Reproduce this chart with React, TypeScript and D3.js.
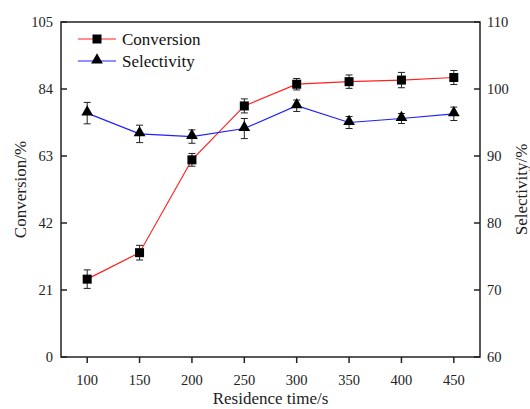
import React from 'react';
import * as d3 from 'd3';

// residence time (s)
const times = [100, 150, 200, 250, 300, 350, 400, 450];
const conversion = [24.4, 32.7, 61.8, 78.7, 85.5, 86.3, 86.8, 87.6];
const conversionErr = [2.9, 2.3, 2.0, 2.2, 1.8, 2.1, 2.4, 2.2];
const selectivity = [96.4, 93.3, 92.9, 94.1, 97.5, 95.0, 95.6, 96.3];
const selectivityErr = [1.6, 1.3, 1.0, 1.5, 0.85, 0.9, 0.75, 1.0];

const xTicks = [100, 150, 200, 250, 300, 350, 400, 450];
const leftTicks = [0, 21, 42, 63, 84, 105];
const rightTicks = [60, 70, 80, 90, 100, 110];

const W = 530;
const H = 409;
const M = { left: 61, right: 480, top: 22, bottom: 357 };
const FONT = '"Liberation Serif", "Times New Roman", serif';
const AXIS = '#222';

export default function App() {
  const x = d3.scaleLinear().domain([75, 475]).range([M.left, M.right]);
  const yL = d3.scaleLinear().domain([0, 105]).range([M.bottom, M.top]);
  const yR = d3.scaleLinear().domain([60, 110]).range([M.bottom, M.top]);

  const convLine = d3
    .line<number>()
    .x((_, i) => x(times[i]))
    .y((d) => yL(d));
  const selLine = d3
    .line<number>()
    .x((_, i) => x(times[i]))
    .y((d) => yR(d));

  const tri = d3.symbol(d3.symbolTriangle, 60)() ?? '';
  const sq = 9;
  const cap = 3.5;

  const errBar = (cx: number, y1: number, y2: number, key: string) => (
    <g key={key} stroke="#222" strokeWidth={1}>
      <line x1={cx} x2={cx} y1={y1} y2={y2} />
      <line x1={cx - cap} x2={cx + cap} y1={y1} y2={y1} />
      <line x1={cx - cap} x2={cx + cap} y1={y2} y2={y2} />
    </g>
  );

  return (
    <svg
      width={W}
      height={H}
      style={{ position: 'absolute', left: 0, top: 0, background: '#fff' }}
      fontFamily={FONT}
    >
      <rect width={W} height={H} fill="#fff" />

      {/* series lines */}
      <path d={convLine(conversion) ?? ''} fill="none" stroke="#ff2020" strokeWidth={1.2} />
      <path d={selLine(selectivity) ?? ''} fill="none" stroke="#2020ff" strokeWidth={1.2} />

      {/* error bars */}
      {times.map((t, i) =>
        errBar(x(t), yL(conversion[i] + conversionErr[i]), yL(conversion[i] - conversionErr[i]), `ce${i}`)
      )}
      {times.map((t, i) =>
        errBar(x(t), yR(selectivity[i] + selectivityErr[i]), yR(selectivity[i] - selectivityErr[i]), `se${i}`)
      )}

      {/* markers */}
      {times.map((t, i) => (
        <rect key={`cm${i}`} x={x(t) - sq / 2} y={yL(conversion[i]) - sq / 2} width={sq} height={sq} fill="#000" />
      ))}
      {times.map((t, i) => (
        <path key={`sm${i}`} d={tri} transform={`translate(${x(t)},${yR(selectivity[i]) - 1})`} fill="#000" />
      ))}

      {/* frame */}
      <rect
        x={M.left}
        y={M.top}
        width={M.right - M.left}
        height={M.bottom - M.top}
        fill="none"
        stroke={AXIS}
        strokeWidth={1.5}
      />

      {/* x ticks (outward) */}
      {xTicks.map((t) => (
        <g key={`xt${t}`}>
          <line x1={x(t)} x2={x(t)} y1={M.bottom} y2={M.bottom + 6} stroke={AXIS} strokeWidth={1.5} />
          <text x={x(t)} y={M.bottom + 28} textAnchor="middle" fontSize={14.5} fill="#222">
            {t}
          </text>
        </g>
      ))}

      {/* left ticks (inward) */}
      {leftTicks.map((t) => (
        <g key={`lt${t}`}>
          <line x1={M.left} x2={M.left + 6} y1={yL(t)} y2={yL(t)} stroke={AXIS} strokeWidth={1.5} />
          <text x={M.left - 8} y={yL(t)} dy="0.35em" textAnchor="end" fontSize={14.5} fill="#222">
            {t}
          </text>
        </g>
      ))}

      {/* right ticks (inward) */}
      {rightTicks.map((t) => (
        <g key={`rt${t}`}>
          <line x1={M.right - 6} x2={M.right} y1={yR(t)} y2={yR(t)} stroke={AXIS} strokeWidth={1.5} />
          <text x={M.right + 7} y={yR(t)} dy="0.35em" textAnchor="start" fontSize={14.5} fill="#222">
            {t}
          </text>
        </g>
      ))}

      {/* axis titles */}
      <text x={(M.left + M.right) / 2} y={H - 5} textAnchor="middle" fontSize={17} fill="#222">
        Residence time/s
      </text>
      <text
        transform={`translate(26,${(M.top + M.bottom) / 2}) rotate(-90)`}
        textAnchor="middle"
        fontSize={17}
        fill="#222"
      >
        Conversion/%
      </text>
      <text
        transform={`translate(527,${(M.top + M.bottom) / 2}) rotate(-90)`}
        textAnchor="middle"
        fontSize={17}
        fill="#222"
      >
        Selectivity/%
      </text>

      {/* legend */}
      <g>
        <line x1={78} x2={116} y1={39} y2={39} stroke="#ff2020" strokeWidth={1.2} />
        <rect x={97 - sq / 2} y={39 - sq / 2} width={sq} height={sq} fill="#000" />
        <text x={122} y={39} dy="0.35em" fontSize={17} fill="#111">
          Conversion
        </text>
        <line x1={78} x2={116} y1={61} y2={61} stroke="#2020ff" strokeWidth={1.2} />
        <path d={tri} transform="translate(97,60)" fill="#000" />
        <text x={122} y={61} dy="0.35em" fontSize={17} fill="#111">
          Selectivity
        </text>
      </g>
    </svg>
  );
}
